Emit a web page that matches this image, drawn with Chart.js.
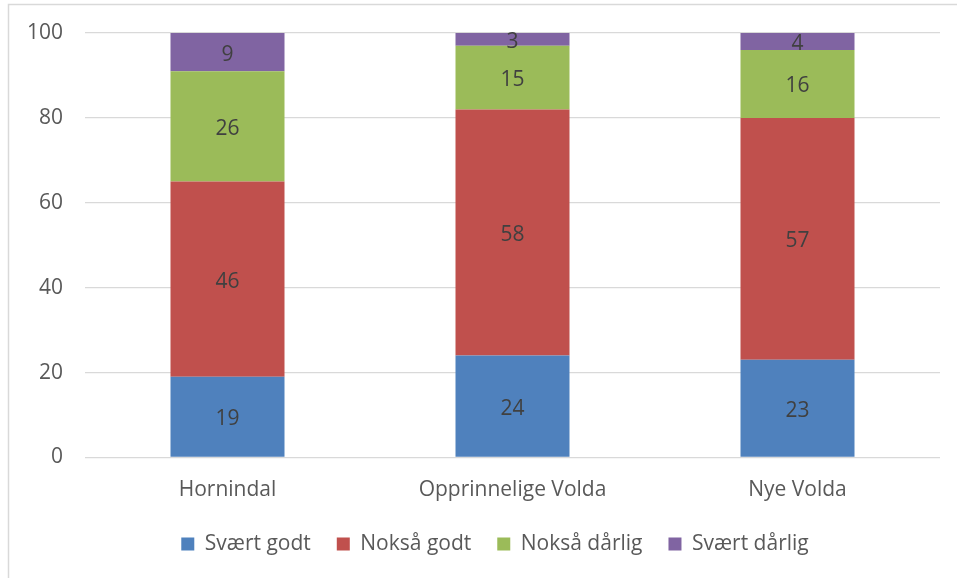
<!DOCTYPE html>
<html>
<head>
<meta charset="utf-8">
<script src="https://cdn.jsdelivr.net/npm/chart.js@4/dist/chart.umd.min.js"></script>
<style>
  html, body { margin: 0; padding: 0; background: #ffffff; }
  #wrap { position: relative; width: 957px; height: 578px; }
  canvas { display: block; }
</style>
</head>
<body>
<div id="wrap"><canvas id="c" width="957" height="578"></canvas></div>
<script>
const categories = ['Hornindal', 'Opprinnelige Volda', 'Nye Volda'];
const seriesNames = ['Svært godt', 'Nokså godt', 'Nokså dårlig', 'Svært dårlig'];
const svaertGodt = [19, 24, 23];
const noksaaGodt = [46, 58, 57];
const noksaaDaarlig = [26, 15, 16];
const svaertDaarlig = [9, 3, 4];
const yTicks = [0, 20, 40, 60, 80, 100];
const colors = ['#4F81BD', '#C0504D', '#9BBB59', '#8064A2'];

const FONT = "'Open Sans', 'Noto Sans', sans-serif";
const FS = 21;

const borderPlugin = {
  id: 'outerBorder',
  beforeDraw(chart) {
    const ctx = chart.ctx;
    ctx.save();
    ctx.fillStyle = '#ffffff';
    ctx.fillRect(0, 0, chart.width, chart.height);
    ctx.strokeStyle = '#d9d9d9';
    ctx.lineWidth = 1.5;
    ctx.strokeRect(8.5, 4.5, chart.width + 20, chart.height + 20);
    ctx.restore();
  }
};

const labelPlugin = {
  id: 'segLabels',
  afterDatasetsDraw(chart) {
    const ctx = chart.ctx;
    ctx.save();
    ctx.font = FS + 'px ' + FONT;
    ctx.fillStyle = '#404040';
    ctx.textAlign = 'center';
    ctx.textBaseline = 'middle';
    chart.data.datasets.forEach((ds, i) => {
      const meta = chart.getDatasetMeta(i);
      meta.data.forEach((bar, j) => {
        const p = bar.getCenterPoint();
        ctx.fillText(String(ds.data[j]), p.x, p.y + 2.5);
      });
    });
    ctx.restore();
  }
};

const seriesData = [svaertGodt, noksaaGodt, noksaaDaarlig, svaertDaarlig];

new Chart(document.getElementById('c'), {
  type: 'bar',
  data: {
    labels: categories,
    datasets: seriesNames.map((n, i) => ({
      label: n,
      data: seriesData[i],
      backgroundColor: colors[i],
      borderWidth: 0,
      barPercentage: 0.4,
      categoryPercentage: 1.0
    }))
  },
  options: {
    responsive: false,
    animation: false,
    devicePixelRatio: 1,
    layout: { padding: { left: 50, right: 17, top: 33, bottom: 13.5 } },
    font: { family: FONT },
    plugins: {
      tooltip: { enabled: false },
      legend: {
        position: 'bottom',
        labels: {
          boxWidth: 13,
          boxHeight: 13,
          padding: 26,
          color: '#595959',
          font: { family: FONT, size: FS }
        }
      }
    },
    scales: {
      x: {
        stacked: true,
        grid: { display: false, drawTicks: false },
        border: { display: false },
        ticks: { color: '#595959', font: { family: FONT, size: FS }, padding: 20 },
        afterFit(scale) { scale.height = 50; }
      },
      y: {
        stacked: true,
        min: 0,
        max: 100,
        afterBuildTicks(scale) { scale.ticks = yTicks.map(v => ({ value: v })); },
        grid: { color: '#d9d9d9', lineWidth: 1.3, drawTicks: false },
        border: { display: false },
        ticks: {
          color: '#595959',
          font: { family: FONT, size: FS },
          mirror: true,
          crossAlign: 'far',
          padding: -58
        },
        afterFit(scale) { scale.width = 35; }
      }
    }
  },
  plugins: [borderPlugin, labelPlugin]
});
</script>
</body>
</html>
